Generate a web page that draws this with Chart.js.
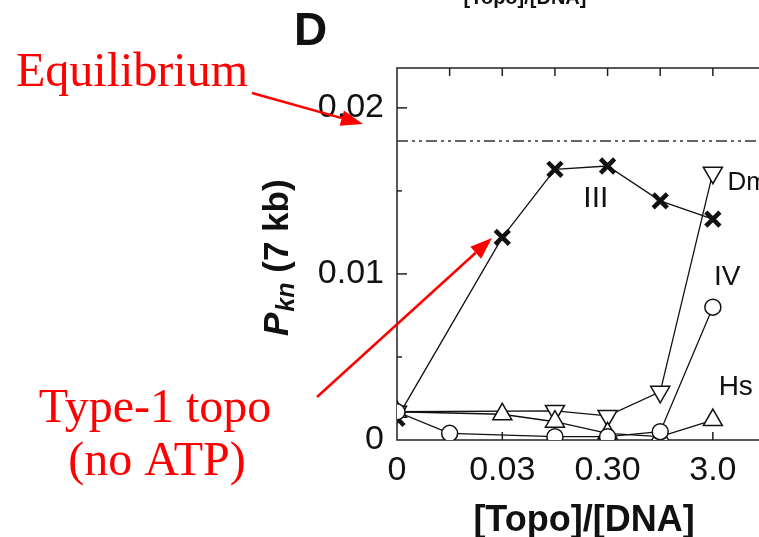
<!DOCTYPE html>
<html>
<head>
<meta charset="utf-8">
<script src="https://cdn.jsdelivr.net/npm/chart.js@4"></script>
<style>
    html, body { margin: 0; padding: 0; background: #fff; overflow: hidden; }
    #wrap { position: absolute; left: 0; top: 0; width: 780px; height: 537px; }
</style>
</head>
<body>
<div id="wrap"><canvas id="pknChart" width="780" height="537"></canvas></div>
<script>
// x positions are half-decade steps of [Topo]/[DNA]
const xSteps = [0, 1, 2, 3, 4, 5, 6];
const xTickValues = [0, 2, 4, 6];
const xTickLabels = ['0', '0.03', '0.30', '3.0'];
const yTickValues = [0, 0.01, 0.02];
const yTickLabels = ['0', '0.01', '0.02'];

const seriesIII = [0.0013, null, 0.0122, 0.0163, 0.0165, 0.0144, 0.0133];
const seriesDm  = [0.0017, null, null, 0.00175, 0.00145, 0.0029, 0.0161];
const seriesHs  = [0.0017, null, 0.00155, 0.0011, 0.0004, 0.0002, 0.0012];
const seriesIV  = [0.0017, 0.0004, null, 0.0002, 0.0002, 0.0005, 0.0080];
const equilibrium = 0.018;

const seriesNames = ['III', 'Dm', 'IV', 'Hs'];
const nameAnchorX = [3.54, 6.28, 6.02, 6.11];
const nameAnchorY = [0.0145, 0.0155, 0.0098, 0.0032];

const yMax = 0.0224;
const xMax = 7;

function toPoints(arr) {
    return xSteps.map((x, i) => arr[i] == null ? null : { x: x, y: arr[i] }).filter(p => p);
}

function lineSet(arr, style, radius, width, rot) {
    return {
        data: toPoints(arr),
        borderColor: '#111',
        borderWidth: 1.3,
        pointStyle: style,
        pointRadius: radius,
        pointRotation: rot || 0,
        pointBorderWidth: width,
        pointBorderColor: '#111',
        pointBackgroundColor: '#fff',
        showLine: true,
        tension: 0
    };
}

function arrow(ctx, x1, y1, x2, y2) {
    const a = Math.atan2(y2 - y1, x2 - x1);
    const len = 22, half = 8;
    const bx = x2 - Math.cos(a) * len, by = y2 - Math.sin(a) * len;
    ctx.beginPath();
    ctx.moveTo(x1, y1);
    ctx.lineTo(bx, by);
    ctx.stroke();
    ctx.beginPath();
    ctx.moveTo(x2, y2);
    ctx.lineTo(bx + Math.sin(a) * half, by - Math.cos(a) * half);
    ctx.lineTo(bx - Math.sin(a) * half, by + Math.cos(a) * half);
    ctx.closePath();
    ctx.fill();
}

// frame with inward ticks
const frame = {
    id: 'frame',
    beforeDatasetsDraw(chart) {
        const ctx = chart.ctx, a = chart.chartArea;
        const xs = chart.scales.x, ys = chart.scales.y;
        ctx.save();
        ctx.strokeStyle = '#222';
        ctx.lineWidth = 1.5;
        ctx.strokeRect(a.left, a.top, a.right - a.left, a.bottom - a.top);
        xSteps.forEach(v => {
            if (v === 0) return;
            const px = xs.getPixelForValue(v);
            ctx.beginPath();
            ctx.moveTo(px, a.bottom); ctx.lineTo(px, a.bottom - 8);
            ctx.moveTo(px, a.top); ctx.lineTo(px, a.top + 8);
            ctx.stroke();
        });
        ys.ticks.forEach(t => {
            if (t.value <= 0 || t.value >= yMax) return;
            const py = ys.getPixelForValue(t.value);
            const major = yTickValues.some(m => Math.abs(m - t.value) < 1e-9);
            ctx.beginPath();
            ctx.moveTo(a.left, py); ctx.lineTo(a.left + (major ? 10 : 5), py);
            ctx.stroke();
        });
        ctx.restore();
    },
    afterDraw(chart) {
        const ctx = chart.ctx;
        const xs = chart.scales.x, ys = chart.scales.y;
        ctx.save();
        // series names
        ctx.fillStyle = '#111';
        ctx.textBaseline = 'middle';
        ctx.textAlign = 'left';
        const sizes = [30, 26, 28, 28];
        seriesNames.forEach((n, i) => {
            ctx.font = sizes[i] + 'px "Liberation Sans", Arial, sans-serif';
            ctx.fillText(n, xs.getPixelForValue(nameAnchorX[i]), ys.getPixelForValue(nameAnchorY[i]));
        });

        // panel letter and cut-off title above
        ctx.textBaseline = 'alphabetic';
        ctx.font = 'bold 46px "Liberation Sans", Arial, sans-serif';
        ctx.fillText('D', 294, 45);
        ctx.textAlign = 'center';
        ctx.font = 'bold 20px "Liberation Sans", Arial, sans-serif';
        ctx.fillText('[Topo]/[DNA]', 525, 4);

        // x title
        ctx.font = 'bold 36px "Liberation Sans", Arial, sans-serif';
        ctx.fillText('[Topo]/[DNA]', 584, 531);

        // y title, rotated
        ctx.save();
        ctx.translate(288, 336);
        ctx.rotate(-Math.PI / 2);
        ctx.textAlign = 'left';
        ctx.font = 'italic bold 35px "Liberation Sans", Arial, sans-serif';
        ctx.fillText('P', 0, 0);
        let w = ctx.measureText('P').width;
        ctx.font = 'italic bold 25px "Liberation Sans", Arial, sans-serif';
        ctx.fillText('kn', w + 1, 6);
        w += 1 + ctx.measureText('kn').width;
        ctx.font = 'bold 35px "Liberation Sans", Arial, sans-serif';
        ctx.fillText(' (7 kb)', w, 0);
        ctx.restore();

        // red annotations
        ctx.fillStyle = '#ff0000';
        ctx.strokeStyle = '#ff0000';
        ctx.lineWidth = 2.5;
        ctx.font = '48px "Liberation Serif", "Times New Roman", serif';
        ctx.textAlign = 'left';
        ctx.fillText('Equilibrium', 16, 86);
        ctx.textAlign = 'center';
        ctx.fillText('Type-1 topo', 155, 422);
        ctx.fillText('(no ATP)', 157, 475);
        arrow(ctx, 252, 93, 363, 124);
        arrow(ctx, 317, 397, 492, 238);
        ctx.restore();
    }
};

const ctx = document.getElementById('pknChart').getContext('2d');
Chart.defaults.font.family = '"Liberation Sans", Arial, sans-serif';
Chart.defaults.color = '#111';

new Chart(ctx, {
    type: 'scatter',
    data: {
        datasets: [
            {
                data: [{ x: 0, y: equilibrium }, { x: xMax, y: equilibrium }],
                borderColor: '#333',
                borderWidth: 1.5,
                borderDash: [11, 4, 3, 4, 3, 4],
                pointRadius: 0,
                showLine: true
            },
            lineSet(seriesIV, 'circle', 8, 1.5),
            lineSet(seriesHs, 'triangle', 11, 1.5),
            lineSet(seriesDm, 'triangle', 11, 1.5, 180),
            lineSet(seriesIII, 'crossRot', 10, 4.5)
        ]
    },
    options: {
        responsive: false,
        animation: false,
        layout: { padding: { top: 68, right: 10, left: 0, bottom: 0 } },
        plugins: { legend: { display: false }, tooltip: { enabled: false } },
        scales: {
            x: {
                type: 'linear',
                min: 0,
                max: xMax,
                grid: { display: false, drawTicks: false },
                border: { display: false },
                afterBuildTicks: s => { s.ticks = xSteps.map(v => ({ value: v })); },
                afterFit: s => { s.height = 97; },
                ticks: {
                    autoSkip: false,
                    maxRotation: 0,
                    padding: 10,
                    font: { size: 34 },
                    callback: v => {
                        const k = xTickValues.indexOf(v);
                        return k < 0 ? '' : xTickLabels[k];
                    }
                }
            },
            y: {
                min: 0,
                max: yMax,
                grid: { display: false, drawTicks: false },
                border: { display: false },
                afterFit: s => { s.width = 397; },
                ticks: {
                    stepSize: 0.0025,
                    padding: 13,
                    font: { size: 34 },
                    callback: v => {
                        const k = yTickValues.findIndex(m => Math.abs(m - v) < 1e-9);
                        return k < 0 ? '' : yTickLabels[k];
                    }
                }
            }
        }
    },
    plugins: [frame]
});
</script>
</body>
</html>
